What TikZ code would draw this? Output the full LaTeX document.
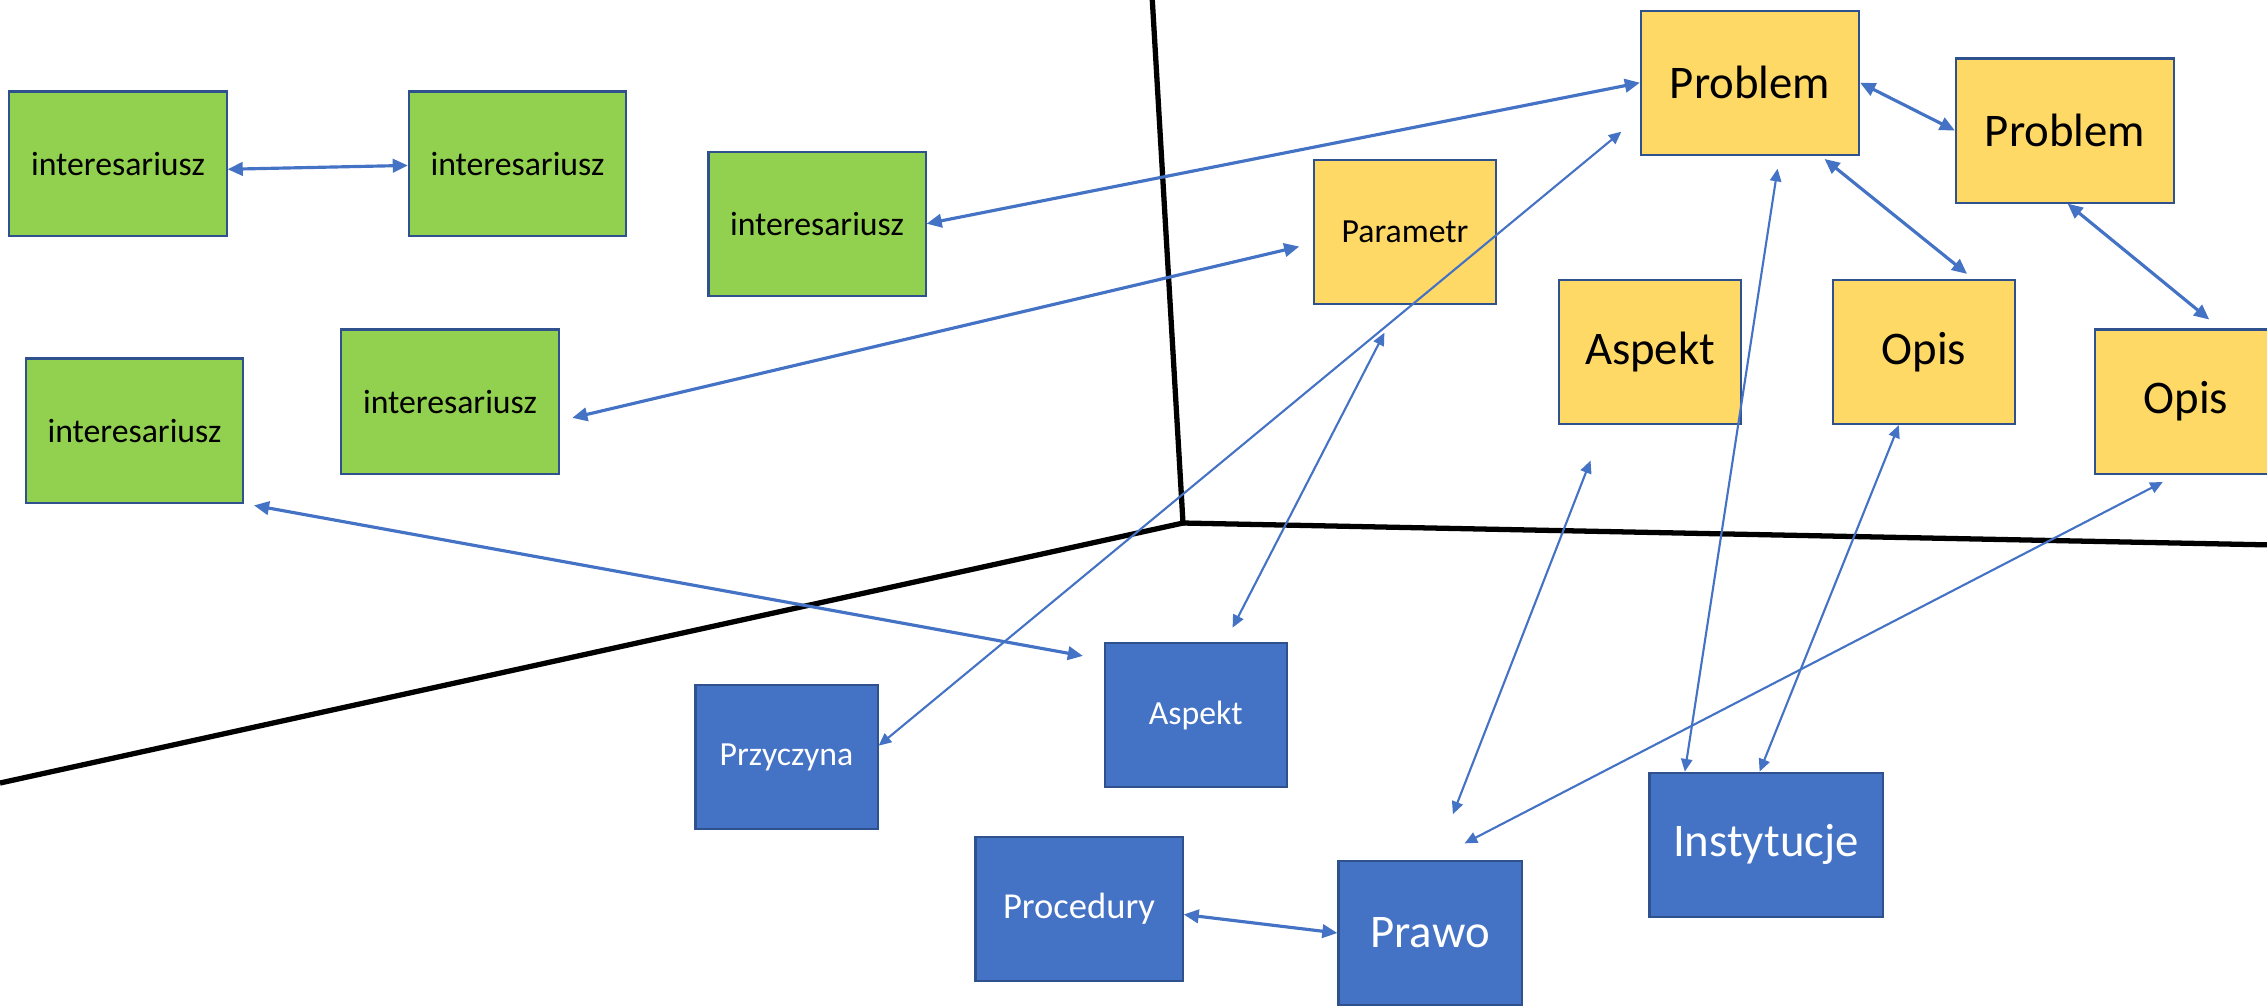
\documentclass[tikz,border=0pt]{standalone}
\usepackage{fontspec}
\setmainfont{Carlito}
\usetikzlibrary{arrows.meta}
\definecolor{zielony}{HTML}{92D050}
\definecolor{zolty}{HTML}{FFD966}
\definecolor{niebieski}{HTML}{4472C4}
\definecolor{ramka}{HTML}{2F528F}
\begin{document}
\begin{tikzpicture}[x=0.01cm,y=-0.01cm,
	pole/.style={draw=ramka,line width=0.6pt,inner sep=0pt,minimum width=1.82cm,minimum height=1.44cm},
	maly/.style={font=\fontsize{9.6}{11}\selectfont},
	duzy/.style={font=\fontsize{13.3}{15}\selectfont},
	ziel/.style={pole,maly,fill=zielony,minimum width=2.17cm},
	zolt/.style={pole,duzy,fill=zolty},
	nieb/.style={pole,maly,fill=niebieski,text=white},
	link/.style={draw=niebieski,line width=0.9pt,{Triangle[length=4.3pt,width=3.8pt]}-{Triangle[length=4.3pt,width=3.8pt]}},
	cienka/.style={draw=niebieski,line width=0.6pt,{Triangle[length=3.6pt,width=3.2pt]}-{Triangle[length=3.6pt,width=3.2pt]}},
	os/.style={line width=1.5pt}]
	\clip (0,0) rectangle (2267,1005);
	% osie
	\coordinate (srodek) at (1183,523);
	\draw[os] (1152,-5) -- (srodek) -- (0,783);
	\draw[os] (srodek) -- (2275,545);
	% interesariusze
	\node[ziel] (g1) at (118,163.5) {interesariusz};
	\node[ziel] (g2) at (517.5,163.5) {interesariusz};
	\node[ziel] (g3) at (817,223.7) {interesariusz};
	\node[ziel] (g4) at (450,401.5) {interesariusz};
	\node[ziel] (g5) at (134.5,430.5) {interesariusz};
	\node[zolt,minimum width=2.18cm] (prob1) at (1750,82.7) {Problem};
	\node[zolt,minimum width=2.18cm] (prob2) at (2065,130.5) {Problem};
	\node[zolt,maly] (param) at (1405,232) {Parametr};
	\node[zolt] (aspy) at (1650,352) {Aspekt};
	\node[zolt] (opis1) at (1924,352) {Opis};
	\node[zolt] (opis2) at (2186,401.5) {Opis};
	\node[nieb] (przy) at (786.5,757) {Przyczyna};
	\node[nieb] (aspb) at (1195.7,715) {Aspekt};
	\node[nieb,minimum width=2.07cm,font=\fontsize{10.4}{12}\selectfont] (proc) at (1079,909) {Procedury};
	\node[nieb,duzy,minimum width=1.83cm] (prawo) at (1430,933) {Prawo};
	\node[nieb,duzy,minimum width=2.33cm] (inst) at (1766,844.7) {Instytucje};
	% polaczenia
	\draw[link] (g1.-3) -- (g2.-179);
	\draw[link] (g3.east) -- (prob1.west);
	\draw[link,shorten <=0.13cm,shorten >=0.14cm] (g4.-10) -- (param.-173);
	\draw[link,shorten <=0.1cm,shorten >=0.21cm] (g5.south east) -- (aspb.149);
	\draw[cienka,shorten >=0.24cm] (przy.7) -- (prob1.-163);
	\draw[cienka,shorten <=0.31cm,shorten >=0.16cm] (param.-95) -- (aspb.68);
	\draw[link] (prob1.east) -- (prob2.west);
	\draw[link,shorten <=0.05cm,shorten >=0.08cm] (prob1.-46) -- (opis1.56);
	\draw[link,shorten >=0.14cm] (prob2.-88) -- (opis2.65);
	\draw[cienka,shorten <=0.13cm] (prob1.-68) -- (inst.138);
	\draw[cienka,shorten <=0.38cm,shorten >=0.49cm] (aspy.-122) -- (prawo.86);
	\draw[cienka] (opis1.-109) -- (inst.95);
	\draw[cienka,shorten <=0.16cm,shorten >=0.36cm] (opis2.-97) -- (prawo.88);
	\draw[link] (proc.-3) -- (prawo.west);
\end{tikzpicture}
\end{document}
